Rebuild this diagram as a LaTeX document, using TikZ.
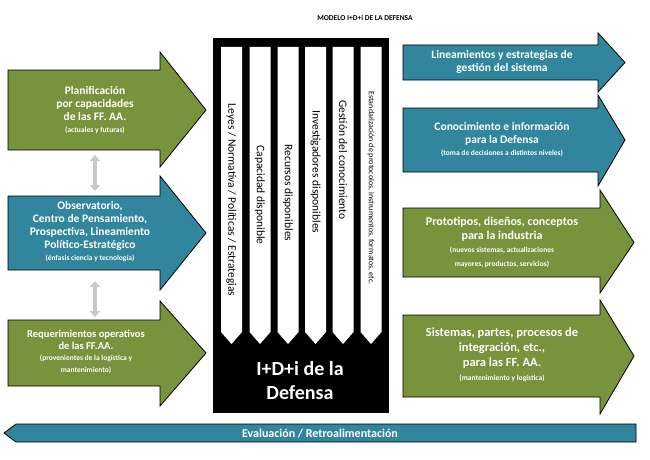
\documentclass[tikz,border=0pt]{standalone}
\usepackage{fontspec}
\setmainfont{Carlito}
\definecolor{gr}{HTML}{77933C}
\definecolor{bl}{HTML}{31859C}
\definecolor{gy}{HTML}{C8C8C8}
\newcommand\rarr[8]{% color, x1, x2, ytop, ybot, headtop, headbot, tip
  \filldraw[fill=#1,draw=black,line width=0.8pt] (#2,#4) -- (#3,#4) -- (#3,#6) -- (#8,{(#4+#5)/2}) -- (#3,#7) -- (#3,#5) -- (#2,#5) -- cycle;}
\newcommand\subtxt{\bfseries\fontsize{7.5}{8.5}\selectfont}
\usetikzlibrary{arrows.meta}
\tikzset{lbl/.style={text=white,align=center,font=\bfseries\fontsize{11.5}{13}\selectfont},
 coltxt/.style={rotate=-90,font=\fontsize{11.5}{13}\selectfont,text=black},
 dbl/.style={gy,line width=3.5pt,{Triangle[length=6pt,width=10pt]}-{Triangle[length=6pt,width=10pt]}}}
\begin{document}
\begin{tikzpicture}[x=1pt,y=-1pt]
\useasboundingbox (0,0) rectangle (650,460);
\fill[white] (0,0) rectangle (650,460);
\node[font=\bfseries\fontsize{7.5}{8}\selectfont] (title) at (365,18) {MODELO I+D+i DE LA DEFENSA};
% black box
\fill[black] (213,38) rectangle (389,413);
\foreach \x in {231.5,260,288,315.5,343,371}{
  \fill[white] (\x-10.5,47) -- (\x+10.5,47) -- (\x+10.5,332) -- (\x,344) -- (\x-10.5,332) -- cycle;}
\node[coltxt] (c1) at (231.5,200) {Leyes / Normativa / Políticas / Estrategias};
\node[coltxt] (c2) at (260,195) {Capacidad disponible};
\node[coltxt] (c3) at (288,193) {Recursos disponibles};
\node[coltxt] (c4) at (315.5,172) {Investigadores disponibles};
\node[coltxt] (c5) at (343,160) {Gestión del conocimiento};
\node[coltxt,font=\fontsize{8}{9}\selectfont] (c6) at (371,188) {Estandarización de protocolos, instrumentos, formatos, etc.};
\node[text=white,align=center,font=\bfseries\fontsize{20}{24}\selectfont] (core) at (300,381) {I+D+i de la\\Defensa};
% left arrows
\rarr{gr}{8}{160}{70}{150}{52}{167}{206}
\node[lbl] (l1) at (95,110) {Planificación\\por capacidades\\de las FF. AA.\\[-1pt]{\subtxt (actuales y futuras)}};
\rarr{bl}{8}{160}{196}{270}{176}{290}{206}
\node[lbl] (l2) at (90,232) {Observatorio,\\Centro de Pensamiento,\\Prospectiva, Lineamiento\\Político-Estratégico\\[-1pt]{\subtxt (énfasis ciencia y tecnología)}};
\rarr{gr}{8}{160}{320}{386}{301}{406}{206}
\node[lbl,font=\bfseries\fontsize{10.5}{12}\selectfont] (l3) at (86,352) {Requerimientos operativos\\de las FF.AA.\\[-1pt]{\subtxt (provenientes de la logística y}\\{\subtxt mantenimiento)}};
\coordinate (a1) at (95,155); \coordinate (b1) at (95,191);
\coordinate (a2) at (95,281); \coordinate (b2) at (95,317);
\draw[dbl] (a1) -- (b1);
\draw[dbl] (a2) -- (b2);
% right arrows
\rarr{bl}{403}{598}{45}{80}{33}{92}{625}
\node[lbl] (r1) at (502,62) {Lineamientos y estrategias de\\gestión del sistema};
\rarr{bl}{403}{598}{108}{172}{95}{186}{625}
\node[lbl] (r2) at (502,140) {Conocimiento e información\\para la Defensa\\[-1pt]{\subtxt (toma de decisiones a distintos niveles)}};
\rarr{gr}{403}{600}{208}{277}{190}{293}{634}
\node[lbl,font=\bfseries\fontsize{12}{14}\selectfont] (r3) at (502,242) {Prototipos, diseños, conceptos\\para la industria\\[-1pt]{\subtxt (nuevos sistemas, actualizaciones}\\{\subtxt mayores, productos, servicios)}};
\rarr{gr}{403}{600}{315}{397}{300}{414}{634}
\node[lbl,font=\bfseries\fontsize{12.5}{15}\selectfont] (r4) at (502,355) {Sistemas, partes, procesos de\\integración, etc.,\\para las FF. AA.\\[-1pt]{\subtxt (mantenimiento y logística)}};
% bottom arrow
\filldraw[fill=bl,draw=black,line width=0.8pt] (4,433) -- (16,424) -- (636,424) -- (636,442) -- (16,442) -- cycle;
\node[lbl,font=\bfseries\fontsize{12}{13}\selectfont] (ev) at (320,433.5) {Evaluación / Retroalimentación};
\end{tikzpicture}
\end{document}
